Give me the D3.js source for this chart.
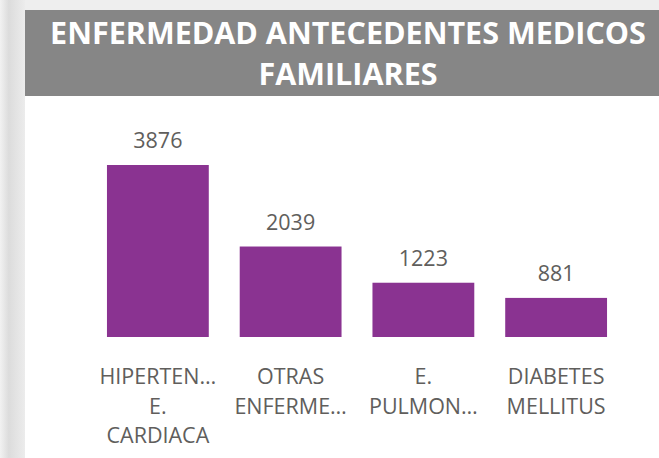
<!DOCTYPE html>
<html>
<head>
<meta charset="utf-8">
<script src="https://cdn.jsdelivr.net/npm/d3@7"></script>
<style>
  body { margin: 0; background: #fff; }
  svg { display: block; }
</style>
</head>
<body>
<script>
var width = 659,
    height = 458;

// data
var categories = ["HIPERTENSION E. CARDIACA", "OTRAS ENFERMEDADES", "E. PULMONARES", "DIABETES MELLITUS"];
var values = [3876, 2039, 1223, 881];
// category labels as they are shown (wrapped and cut)
var labelLines = [
    ["HIPERTEN\u2026", "E.", "CARDIACA"],
    ["OTRAS", "ENFERME\u2026"],
    ["E.", "PULMON\u2026"],
    ["DIABETES", "MELLITUS"]
];
var titleLines = ["ENFERMEDAD ANTECEDENTES MEDICOS", "FAMILIARES"];

var svg = d3.select("body").append("svg")
    .attr("width", width)
    .attr("height", height);

// shadow strips round the card
var defs = svg.append("defs");
var grad = defs.append("linearGradient").attr("id", "side");
grad.append("stop").attr("offset", "0%").attr("stop-color", "#f2f2f2");
grad.append("stop").attr("offset", "35%").attr("stop-color", "#dcdcdc");
grad.append("stop").attr("offset", "100%").attr("stop-color", "#ececec");

svg.append("rect").attr("x", 0).attr("y", 0).attr("width", width).attr("height", 10).attr("fill", "#eeeeee");
svg.append("rect").attr("x", 0).attr("y", 0).attr("width", 25).attr("height", height).attr("fill", "url(#side)");

// title bar
svg.append("rect")
    .attr("x", 25).attr("y", 10)
    .attr("width", width - 25).attr("height", 86)
    .attr("fill", "#868686");

svg.append("g")
    .selectAll("text")
    .data(titleLines)
    .enter().append("text")
    .attr("x", 348)
    .attr("y", function(d, i) { return 44 + i * 41; })
    .attr("text-anchor", "middle")
    .attr("fill", "#ffffff")
    .style("font-family", "'Open Sans', sans-serif")
    .style("font-weight", "bold")
    .style("font-size", "30.5px")
    .text(function(d) { return d; });

var x = d3.scaleBand()
    .domain(categories)
    .range([91.5, 622.5])
    .paddingInner(0.233)
    .paddingOuter(0.1165);

var y = d3.scaleLinear()
    .domain([0, d3.max(values)])
    .range([337, 165]);

var bars = svg.append("g");

bars.selectAll("rect")
    .data(values)
    .enter().append("rect")
    .attr("x", function(d, i) { return x(categories[i]); })
    .attr("y", function(d) { return y(d); })
    .attr("width", x.bandwidth())
    .attr("height", function(d) { return y(0) - y(d); })
    .attr("fill", "#8a3391");

bars.selectAll("text.val")
    .data(values)
    .enter().append("text")
    .attr("class", "val")
    .attr("x", function(d, i) { return x(categories[i]) + x.bandwidth() / 2; })
    .attr("y", function(d) { return y(d) - 17; })
    .attr("text-anchor", "middle")
    .attr("fill", "#605e5c")
    .style("font-family", "'Open Sans', sans-serif")
    .style("font-size", "21.5px")
    .text(function(d) { return d; });

var labels = svg.append("g")
    .selectAll("text")
    .data(labelLines)
    .enter().append("text")
    .attr("text-anchor", "middle")
    .attr("fill", "#605e5c")
    .style("font-family", "'Open Sans', sans-serif")
    .style("font-size", "21.5px");

labels.selectAll("tspan")
    .data(function(d, i) { return d.map(function(t) { return {t: t, i: i}; }); })
    .enter().append("tspan")
    .attr("x", function(d) { return x(categories[d.i]) + x.bandwidth() / 2; })
    .attr("y", function(d, j) { return 384 + j * 29.5; })
    .text(function(d) { return d.t; });
</script>
</body>
</html>
